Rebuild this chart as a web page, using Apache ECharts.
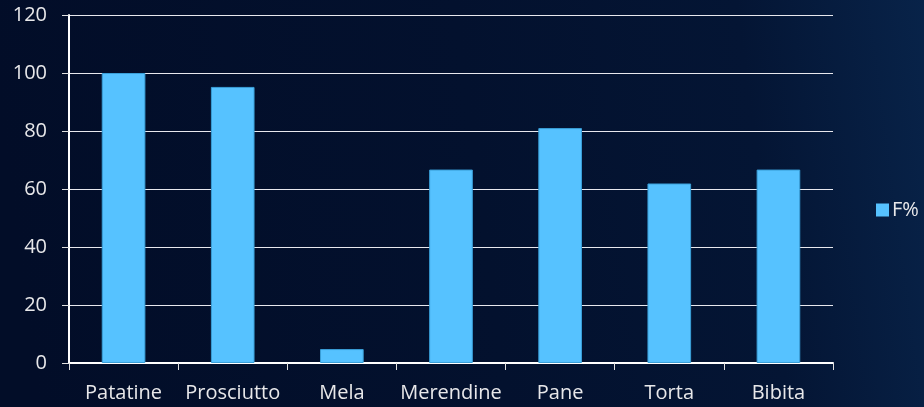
<!DOCTYPE html>
<html><head><meta charset="utf-8">
<script src="https://cdn.jsdelivr.net/npm/echarts@6/dist/echarts.min.js"></script>
<style>html,body{margin:0;padding:0;background:#031230;}#c{width:924px;height:407px;}</style>
</head><body><div id="c"></div>
<script>
const categories = ['Patatine','Prosciutto','Mela','Merendine','Pane','Torta','Bibita'];
const fValues = [100, 95.2, 4.8, 66.7, 81.0, 61.9, 66.7];
const seriesName = 'F%';
const yTicks = [0, 20, 40, 60, 80, 100, 120];

const chart = echarts.init(document.getElementById('c'), null, {renderer:'canvas'});
const font = '"Open Sans", "Noto Sans", sans-serif';
chart.setOption({
  backgroundColor: {
    type: 'linear', x: 0, y: 0.3, x2: 1, y2: 0,
    colorStops: [
      {offset: 0, color: '#020d28'},
      {offset: 0.5, color: '#03112e'},
      {offset: 0.8, color: '#041534'},
      {offset: 1, color: '#082349'}
    ]
  },
  animation: false,
  grid: {left: 69, right: 91, top: 15, bottom: 44, containLabel: false},
  legend: {
    data: [seriesName], orient: 'vertical', left: 871, top: 195,
    itemWidth: 13, itemHeight: 13, itemGap: 4, icon: 'rect',
    itemStyle: {borderWidth: 0},
    textStyle: {color: '#e8e8ea', fontSize: 20, fontFamily: font, padding: [0,0,0,-2]}
  },
  xAxis: {
    type: 'category', data: categories,
    axisLine: {lineStyle: {color: '#ffffff', width: 2}},
    axisTick: {show: true, length: 7, alignWithLabel: false, lineStyle: {color: '#e0e0e0', width: 1}},
    axisLabel: {color: '#e8e8ea', fontSize: 20, fontFamily: font, margin: 20, interval: 0}
  },
  yAxis: {
    type: 'value', min: yTicks[0], max: yTicks[yTicks.length-1], interval: 20,
    axisLine: {show: true, lineStyle: {color: '#ffffff', width: 2}},
    axisTick: {show: true, length: 7, inside: false, lineStyle: {color: '#e0e0e0'}},
    splitLine: {lineStyle: {color: '#e8e8ee', width: 1}},
    axisLabel: {color: '#e8e8ea', fontSize: 20, fontFamily: font, margin: 22}
  },
  series: [{
    name: seriesName, type: 'bar', data: fValues, barWidth: '40%',
    itemStyle: {color: '#56c2ff', borderColor: '#3a9fd8', borderWidth: 1}
  }]
});
</script></body></html>
